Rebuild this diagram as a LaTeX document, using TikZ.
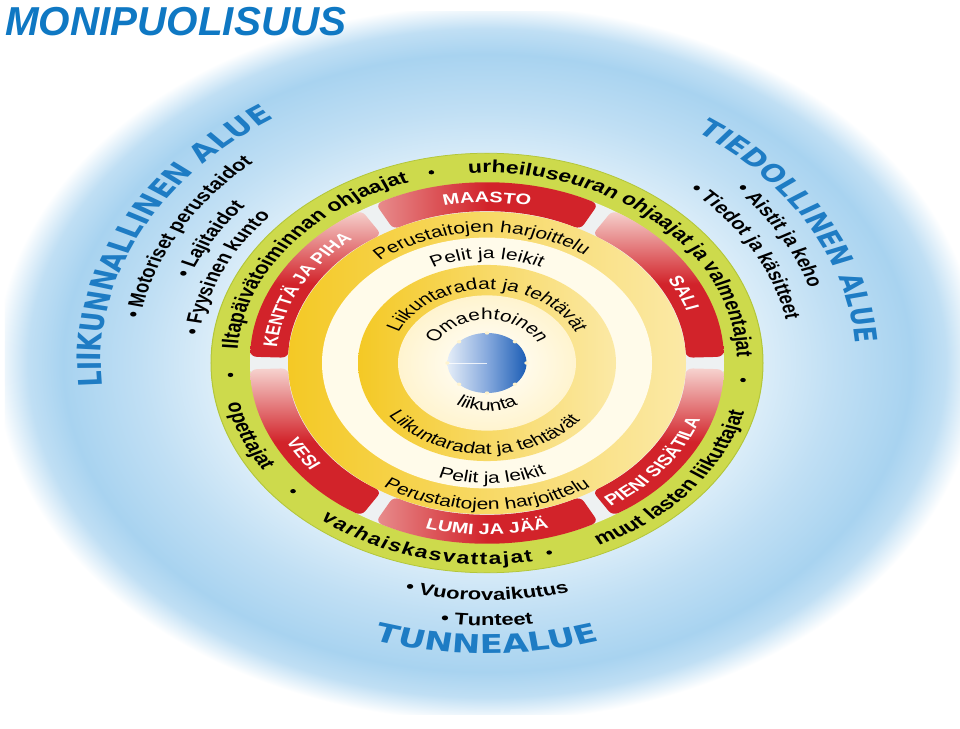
\documentclass[tikz,border=0pt]{standalone}
\usepackage{fontspec}
\setmainfont{Liberation Sans}
\newfontfamily\djvfont{DejaVu Sans}
\usetikzlibrary{decorations.text}
\definecolor{titleblue}{HTML}{0F78C3}
\definecolor{areablue}{HTML}{1E7CC4}
\definecolor{olivefill}{HTML}{CDDA4C}
\definecolor{oliveedge}{HTML}{B3C63A}
\definecolor{tileR}{HTML}{D2232A}
\definecolor{tileL}{HTML}{F6D3CF}
\definecolor{tilebase}{HTML}{EEF1F2}
\definecolor{ylwS}{HTML}{F4C925}
\definecolor{ylwL}{HTML}{FBE9A6}
\definecolor{creamW}{HTML}{FFFBEA}
\definecolor{creamC}{HTML}{FFF4CF}
\definecolor{discL}{HTML}{E4EDF8}
\definecolor{discM}{HTML}{86A9DD}
\definecolor{discR}{HTML}{1C5EB5}
\definecolor{bgA}{HTML}{DDEEF9}
\definecolor{bgB}{HTML}{C0DFF4}
\definecolor{bgC}{HTML}{A8D3F0}
\pgfdeclareradialshading{bgshade}{\pgfpoint{0bp}{0bp}}{color(0bp)=(white); color(10bp)=(white); color(14bp)=(bgA); color(18bp)=(bgB); color(22bp)=(bgC); color(23.8bp)=(bgB); color(25.5bp)=(white); color(50bp)=(white)}
\newcommand{\cwtext}[4]{\path[decorate,decoration={text along path,text align=center,text={|#3|#4}}] (#1+85:#2) arc[start angle=#1+85,end angle=#1-85,radius=#2];}
\newcommand{\ccwtext}[4]{\path[decorate,decoration={text along path,text align=center,text={|#3|#4}}] (#1-85:#2) arc[start angle=#1-85,end angle=#1+85,radius=#2];}
\newcommand{\ccwfit}[5]{\path[decorate,decoration={text along path,text align={fit to path},text={|#4|#5}}] (#1:#3) arc[start angle=#1,end angle=#2,radius=#3];}
\newcommand{\fRing}{\bfseries\fontsize{23}{23}\selectfont}
\newcommand{\fTile}{\color{white}\bfseries\fontsize{20}{20}\selectfont}
\newcommand{\fIn}{\fontsize{21}{21}\selectfont}
\newcommand{\fAreaL}{\color{areablue}\djvfont\bfseries\fontsize{32.5}{32.5}\selectfont}
\newcommand{\fAreaR}{\color{areablue}\djvfont\bfseries\fontsize{31}{31}\selectfont}
\newcommand{\fAreaB}{\color{areablue}\djvfont\bfseries\fontsize{34}{34}\selectfont}
\newcommand{\fList}{\bfseries\fontsize{22}{22}\selectfont}
\tikzset{
  sidetile/.style={rounded corners=7, top color=tileL, bottom color=tileR, middle color=tileR},
  flattile/.style={rounded corners=7, left color=tileL!60!tileR, right color=tileR, middle color=tileR},
  ringdot/.style={fill=black}
}
\begin{document}
\begin{tikzpicture}[x=1pt,y=1pt]
\useasboundingbox (-487,-365) rectangle (473,363);
\fill[white] (-487,-365) rectangle (473,363);
\begin{scope}[transform canvas={yscale=0.76}]
  % background glow
  \path[shading=bgshade] (-482,-462) rectangle (482,462);
  % olive ring
  \fill[olivefill] (0,0) circle[radius=276];
  \draw[oliveedge, line width=1] (0,0) circle[radius=276];
  \fill[tilebase] (0,0) circle[radius=237];
  % red tiles
  \foreach \c in {30,-30,210,150}{
    \path[sidetile] (\c-28:199) arc[start angle=\c-28,end angle=\c+28,radius=199] -- (\c+28:237) arc[start angle=\c+28,end angle=\c-28,radius=237] -- cycle;
  }
  \foreach \c in {90,270}{
    \path[flattile] (\c-28:199) arc[start angle=\c-28,end angle=\c+28,radius=199] -- (\c+28:237) arc[start angle=\c+28,end angle=\c-28,radius=237] -- cycle;
  }
  % yellow bands
  \shade[left color=ylwS, right color=ylwL] (0,0) circle[radius=199];
  \fill[creamW] (0,0) circle[radius=165];
  \shade[left color=ylwS, right color=ylwL] (0,0) circle[radius=129];
  \shade[inner color=white, outer color=creamC] (0,0) circle[radius=89];
  % centre disc
  \shade[left color=discL, right color=discR, middle color=discM] (0,0) circle[radius=39.5];
  \foreach \a in {0,45,...,315}{\fill[creamC] (\a:39.5) circle[radius=2.2];}
  \draw[white, line width=1.2, opacity=0.8] (-38,0) -- (0,0);
  % inner ring texts
  \cwtext{92}{172}{\fIn}{Perustaitojen harjoittelu}
  \cwtext{90}{137}{\fIn}{Pelit ja leikit}
  \cwtext{90}{97}{\fIn}{Liikuntaradat ja tehtävät}
  \cwtext{90}{57}{\fIn}{Omaehtoinen}
  \ccwtext{270}{63}{\fIn}{liikunta}
  \ccwtext{268}{120}{\fIn}{Liikuntaradat ja tehtävät}
  \ccwtext{272}{158}{\fIn}{Pelit ja leikit}
  \ccwtext{270}{193}{\fIn}{Perustaitojen harjoittelu}
  % tile texts
  \cwtext{90}{211}{\fTile}{MAASTO}
  \cwtext{25}{211}{\fTile}{SALI}
  \cwtext{152}{211}{\fTile}{KENTTÄ JA PIHA}
  \ccwtext{-38}{226}{\fTile}{PIENI SISÄTILA}
  \ccwtext{270}{226}{\fTile}{LUMI JA JÄÄ}
  \ccwtext{213}{226}{\fTile}{VESI}
  % olive ring texts
  \cwtext{142}{250}{\fRing}{Iltapäivätoiminnan ohjaajat}
  \cwtext{48}{250}{\fRing}{urheiluseuran ohjaajat ja valmentajat}
  \ccwtext{-39.5}{265}{\fRing}{muut lasten liikuttajat}
  \ccwfit{231}{280}{265}{\fRing}{varhaiskasvattajat}
  \ccwtext{202}{265}{\fRing}{opettajat}
  \foreach \a in {102.5,-5,-76,221,183.5}{\fill[ringdot] (\a:257) circle[radius=2.8];}
  % area texts
  \cwtext{154}{386}{\fAreaL}{LIIKUNNALLINEN ALUE}
  \cwtext{29.75}{369}{\fAreaR}{TIEDOLLINEN ALUE}
  \ccwtext{270}{382}{\fAreaB}{TUNNEALUE}
  \cwtext{151}{352}{\fList}{• Motoriset perustaidot}
  \cwtext{149.5}{318}{\fList}{• Lajitaidot}
  \cwtext{155.5}{290}{\fList}{• Fyysinen kunto}
  \cwtext{29.8}{337}{\fList}{• Aistit ja keho}
  \cwtext{29.5}{304}{\fList}{• Tiedot ja käsitteet}
  \ccwtext{270}{312}{\fList}{• Vuorovaikutus}
  \ccwtext{270}{346}{\fList}{• Tunteet}
\end{scope}
\node[anchor=base west, text=titleblue, font=\bfseries\itshape\fontsize{40.4}{40.4}\selectfont, inner sep=0] (title) at (-482,327) {MONIPUOLISUUS};
\end{tikzpicture}
\end{document}
